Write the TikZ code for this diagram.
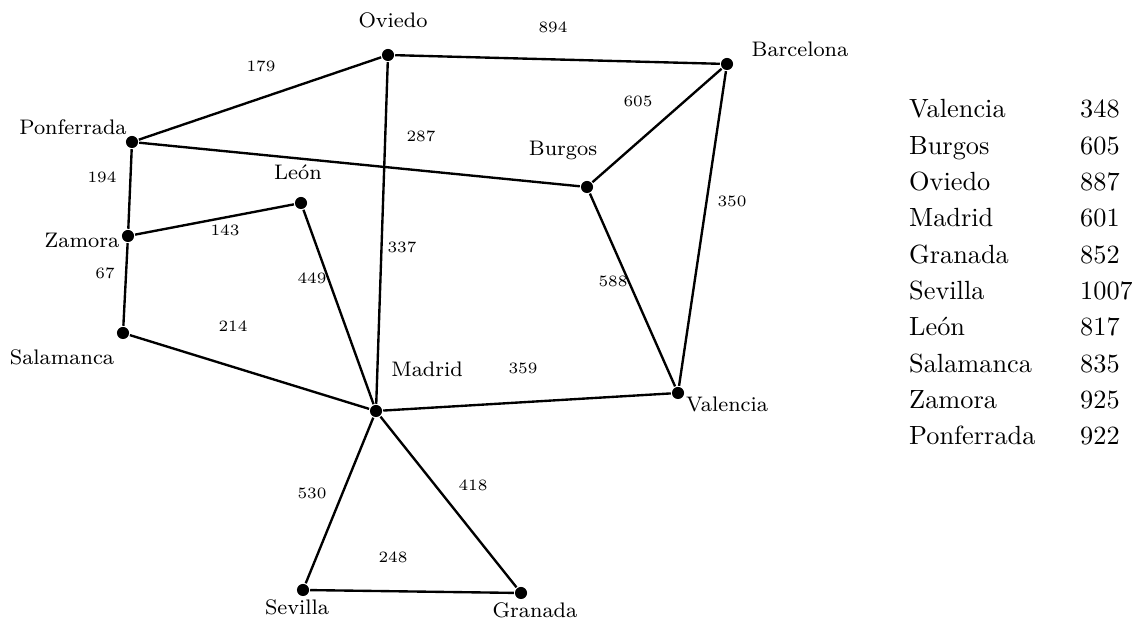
\documentclass[tikz,border=0pt]{standalone}
\begin{document}
\begin{tikzpicture}[x=0.38pt, y=-0.38pt, line width=0.9pt,
  city/.style={circle, fill=black, inner sep=0pt, minimum size=4.6pt},
  cityname/.style={font=\footnotesize, inner sep=0pt, anchor=base},
  dist/.style={font=\fontsize{6}{7}\selectfont, inner sep=0pt, anchor=base},
  tabname/.style={inner sep=0pt, anchor=base west},
  road/.style={draw=black}]
\useasboundingbox (0,0) rectangle (1132,619);

% cities
\node[city] (oviedo)     at (388,55)  {};
\node[city] (barcelona)  at (727,64)  {};
\node[city] (ponferrada) at (132,142) {};
\node[city] (burgos)     at (587,187) {};
\node[city] (leon)       at (301,203) {};
\node[city] (zamora)     at (128,236) {};
\node[city] (salamanca)  at (123,333) {};
\node[city] (madrid)     at (376,411) {};
\node[city] (valencia)   at (678,393) {};
\node[city] (sevilla)    at (303,590) {};
\node[city] (granada)    at (521,593) {};

% city names
\node[cityname] (n-oviedo)     at (393,28)  {Oviedo};
\node[cityname] (n-barcelona)  at (800,57)  {Barcelona};
\node[cityname] (n-ponferrada) at (73,135)  {Ponferrada};
\node[cityname] (n-burgos)     at (563,156) {Burgos};
\node[cityname] (n-leon)       at (298,180) {León};
\node[cityname] (n-zamora)     at (82,248)  {Zamora};
\node[cityname] (n-salamanca)  at (62,365)  {Salamanca};
\node[cityname] (n-madrid)     at (427,377) {Madrid};
\node[cityname] (n-valencia)   at (727,412) {Valencia};
\node[cityname] (n-sevilla)    at (297,615) {Sevilla};
\node[cityname] (n-granada)    at (535,618) {Granada};

% roads
\draw[road] (oviedo) -- (barcelona);
\draw[road] (oviedo) -- (ponferrada);
\draw[road] (oviedo) -- (madrid);
\draw[road] (barcelona) -- (burgos);
\draw[road] (barcelona) -- (valencia);
\draw[road] (ponferrada) -- (burgos);
\draw[road] (ponferrada) -- (zamora);
\draw[road] (zamora) -- (leon);
\draw[road] (zamora) -- (salamanca);
\draw[road] (leon) -- (madrid);
\draw[road] (burgos) -- (valencia);
\draw[road] (salamanca) -- (madrid);
\draw[road] (madrid) -- (valencia);
\draw[road] (madrid) -- (sevilla);
\draw[road] (madrid) -- (granada);
\draw[road] (sevilla) -- (granada);

% distances
\node[dist] (d894) at (553,33)  {894};
\node[dist] (d605) at (638,107) {605};
\node[dist] (d179) at (261,72)  {179};
\node[dist] (d287) at (421,142) {287};
\node[dist] (d194) at (102,183) {194};
\node[dist] (d143) at (225,236) {143};
\node[dist] (d67)  at (105,279) {67};
\node[dist] (d449) at (312,284) {449};
\node[dist] (d337) at (402,253) {337};
\node[dist] (d350) at (732,207) {350};
\node[dist] (d588) at (613,287) {588};
\node[dist] (d359) at (523,374) {359};
\node[dist] (d214) at (233,332) {214};
\node[dist] (d530) at (312,499) {530};
\node[dist] (d418) at (473,491) {418};
\node[dist] (d248) at (393,563) {248};

% table of values
\foreach \name/\val [count=\i from 0] in
  {Valencia/348, Burgos/605, Oviedo/887, Madrid/601, Granada/852,
   Sevilla/1007, León/817, Salamanca/835, Zamora/925, Ponferrada/922} {
  \node[tabname] (t-name-\i) at (908,118+36.3*\i) {\name};
  \node[tabname] (t-val-\i)  at (1079,118+36.3*\i) {\val};
}
\end{tikzpicture}
\end{document}
